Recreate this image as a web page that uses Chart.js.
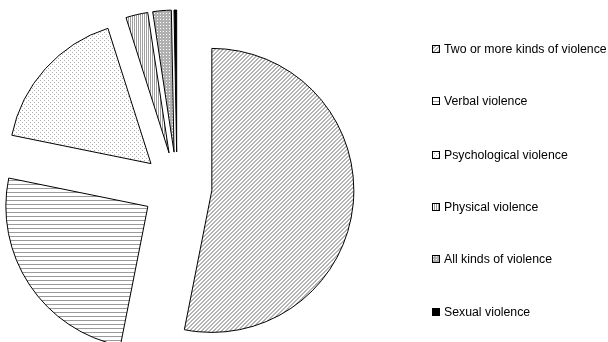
<!DOCTYPE html>
<html>
<head>
<meta charset="utf-8">
<script src="https://cdn.jsdelivr.net/npm/chart.js@4/dist/chart.umd.min.js"></script>
<style>
  html, body { margin: 0; padding: 0; background: #fff; }
  #wrap { position: relative; width: 608px; height: 342px; }
  #pie { position: absolute; left: 0; top: 0; }
  .leg { position: absolute; left: 432px; font: 12.3px "Liberation Sans", Arial, sans-serif; color: #000; white-space: nowrap; line-height: 14px; }
  .leg canvas { position: absolute; left: 0; top: 3px; }
  .leg span { position: absolute; left: 12px; top: 0; }
</style>
</head>
<body>
<div id="wrap">
  <canvas id="pie" width="608" height="342"></canvas>
</div>
<script>
// Share of respondents by kind of violence experienced (%)
const categories = [
  'Two or more kinds of violence',
  'Verbal violence',
  'Psychological violence',
  'Physical violence',
  'All kinds of violence',
  'Sexual violence'
];
const values = [53.1, 25.1, 16.9, 2.5, 2.1, 0.3];
const fills = ['diagonal', 'horizontal', 'dots', 'vertical', 'denseDots', 'solid'];

// Distance (px) every slice is pulled out from the centre
const EXPLODE = 35;

// Build small repeating tiles for the monochrome fills
function makeTile(kind) {
  const c = document.createElement('canvas');
  const g = c.getContext('2d');
  if (kind === 'diagonal') {
    c.width = 4; c.height = 4;
    g.fillStyle = '#fff'; g.fillRect(0, 0, 4, 4);
    g.fillStyle = '#b4b4b4';
    for (let i = 0; i < 4; i++) {
      g.fillRect((3 - i + 4) % 4, i, 1, 1);
      g.fillRect((4 - i + 4) % 4, i, 1, 1);
    }
  } else if (kind === 'horizontal') {
    c.width = 4; c.height = 4;
    g.fillStyle = '#fff'; g.fillRect(0, 0, 4, 4);
    g.fillStyle = '#9a9a9a'; g.fillRect(0, 0, 4, 1);
  } else if (kind === 'dots') {
    c.width = 4; c.height = 4;
    g.fillStyle = '#fff'; g.fillRect(0, 0, 4, 4);
    g.fillStyle = '#b0b0b0';
    g.fillRect(0, 0, 1, 1); g.fillRect(2, 2, 1, 1);
  } else if (kind === 'vertical') {
    c.width = 2; c.height = 2;
    g.fillStyle = '#fff'; g.fillRect(0, 0, 2, 2);
    g.fillStyle = '#a0a0a0'; g.fillRect(0, 0, 1, 2);
  } else if (kind === 'denseDots') {
    c.width = 3; c.height = 3;
    g.fillStyle = '#b0b0b0'; g.fillRect(0, 0, 3, 3);
    g.fillStyle = '#fff'; g.fillRect(1, 1, 1, 1);
  } else {
    c.width = 1; c.height = 1;
    g.fillStyle = '#000'; g.fillRect(0, 0, 1, 1);
  }
  return c;
}

const ctx = document.getElementById('pie').getContext('2d');
const patterns = fills.map(k => ctx.createPattern(makeTile(k), 'repeat'));

// Pull each slice out along its own bisector, keeping the radius unchanged
const explodeSlices = {
  id: 'explodeSlices',
  beforeDatasetsDraw(chart) {
    const a = chart.chartArea;
    const cx = (a.left + a.right) / 2;
    const cy = (a.top + a.bottom) / 2;
    chart.getDatasetMeta(0).data.forEach(arc => {
      const mid = (arc.startAngle + arc.endAngle) / 2;
      arc.x = cx + Math.cos(mid) * EXPLODE;
      arc.y = cy + Math.sin(mid) * EXPLODE;
    });
  }
};

new Chart(ctx, {
  type: 'pie',
  data: {
    labels: categories,
    datasets: [{
      data: values,
      backgroundColor: patterns,
      borderColor: '#000',
      borderWidth: 1,
      borderJoinStyle: 'miter',
      offset: 0
    }]
  },
  options: {
    responsive: false,
    animation: false,
    radius: 142,
    layout: { padding: { left: 0, right: 254, top: 32, bottom: 0 } },
    plugins: {
      legend: { display: false },
      tooltip: { enabled: false }
    }
  },
  plugins: [explodeSlices]
});

// Legend column on the right
const wrap = document.getElementById('wrap');
const legendTops = [42, 94, 148, 200, 252, 305];
categories.forEach((name, i) => {
  const item = document.createElement('div');
  item.className = 'leg';
  item.style.top = legendTops[i] + 'px';
  const box = document.createElement('canvas');
  box.width = 8; box.height = 8;
  const b = box.getContext('2d');
  b.fillStyle = b.createPattern(makeTile(fills[i]), 'repeat');
  b.fillRect(0, 0, 8, 8);
  b.strokeStyle = '#000'; b.lineWidth = 1;
  b.strokeRect(0.5, 0.5, 7, 7);
  const label = document.createElement('span');
  label.textContent = name;
  item.appendChild(box);
  item.appendChild(label);
  wrap.appendChild(item);
});
</script>
</body>
</html>
